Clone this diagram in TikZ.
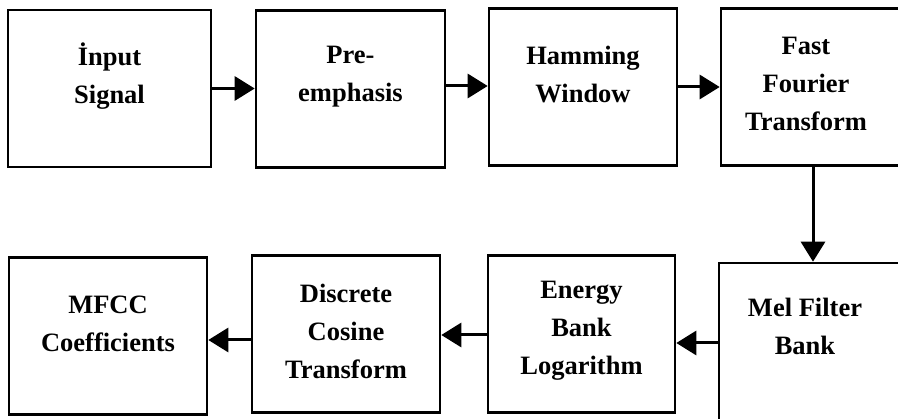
\documentclass[tikz,border=0pt]{standalone}
\usepackage{fontspec}
\setmainfont{Liberation Serif}
\usetikzlibrary{arrows.meta,positioning}

\tikzset{
  blk/.style={draw,line width=2.6pt,minimum height=157pt,inner sep=0pt},
  lbl/.style={font=\bfseries\fontsize{26.5}{38}\selectfont,align=center,inner sep=0pt},
  two/.style={yshift=12pt},
  three/.style={yshift=3pt},
  flow/.style={line width=3pt,-{Triangle[length=20pt,width=24pt]}}
}

\begin{document}
\begin{tikzpicture}[x=1pt,y=-1pt]
  \useasboundingbox (0,0) rectangle (898,419);
  \clip (0,0) rectangle (898,419);
  % upper row
  \node[blk,minimum width=203pt](inp)at(109.5,88.5){};
  \node[blk,minimum width=189pt](pre)at(350.5,89){};
  \node[blk,minimum width=188pt](ham)at(583,87){};
  \node[blk,minimum width=184pt](fft)at(813,87){};
  % lower row
  \node[blk,minimum width=186pt,minimum height=160pt](mel)at(812,343){};
  \node[blk,minimum width=187pt](eng)at(581.5,334){};
  \node[blk,minimum width=188pt](dct)at(346,334){};
  \node[blk,minimum width=198pt](mfcc)at(108,336){};
  % texts
  \node[lbl,two](inpT)at(inp.center){\.Input\\Signal};
  \node[lbl,two](preT)at(pre.center){Pre-\\emphasis};
  \node[lbl,two](hamT)at(ham.center){Hamming\\Window};
  \node[lbl,three,xshift=-7pt](fftT)at(fft.center){Fast\\Fourier\\Transform};
  \node[lbl,two,xshift=-7pt,yshift=5pt](melT)at(mel.center){Mel Filter\\Bank};
  \node[lbl,three](engT)at(eng.center){Energy\\Bank\\Logarithm};
  \node[lbl,three](dctT)at(dct.center){Discrete\\Cosine\\Transform};
  \node[lbl,two](mfccT)at(mfcc.center){MFCC\\Coefficients};
  % arrows
  \draw[flow](inp.east)--(inp.east-|pre.west);
  \draw[flow]([yshift=3pt]pre.east)--([yshift=3pt]pre.east-|ham.west);
  \draw[flow](ham.east)--(ham.east-|fft.west);
  \draw[flow](fft.south)--(fft.south|-mel.north);
  \draw[flow](mel.west)--(mel.west-|eng.east);
  \draw[flow]([yshift=-1pt]eng.west)--([yshift=-1pt]eng.west-|dct.east);
  \draw[flow]([yshift=-6pt]dct.west)--([yshift=-6pt]dct.west-|mfcc.east);
\end{tikzpicture}
\end{document}
